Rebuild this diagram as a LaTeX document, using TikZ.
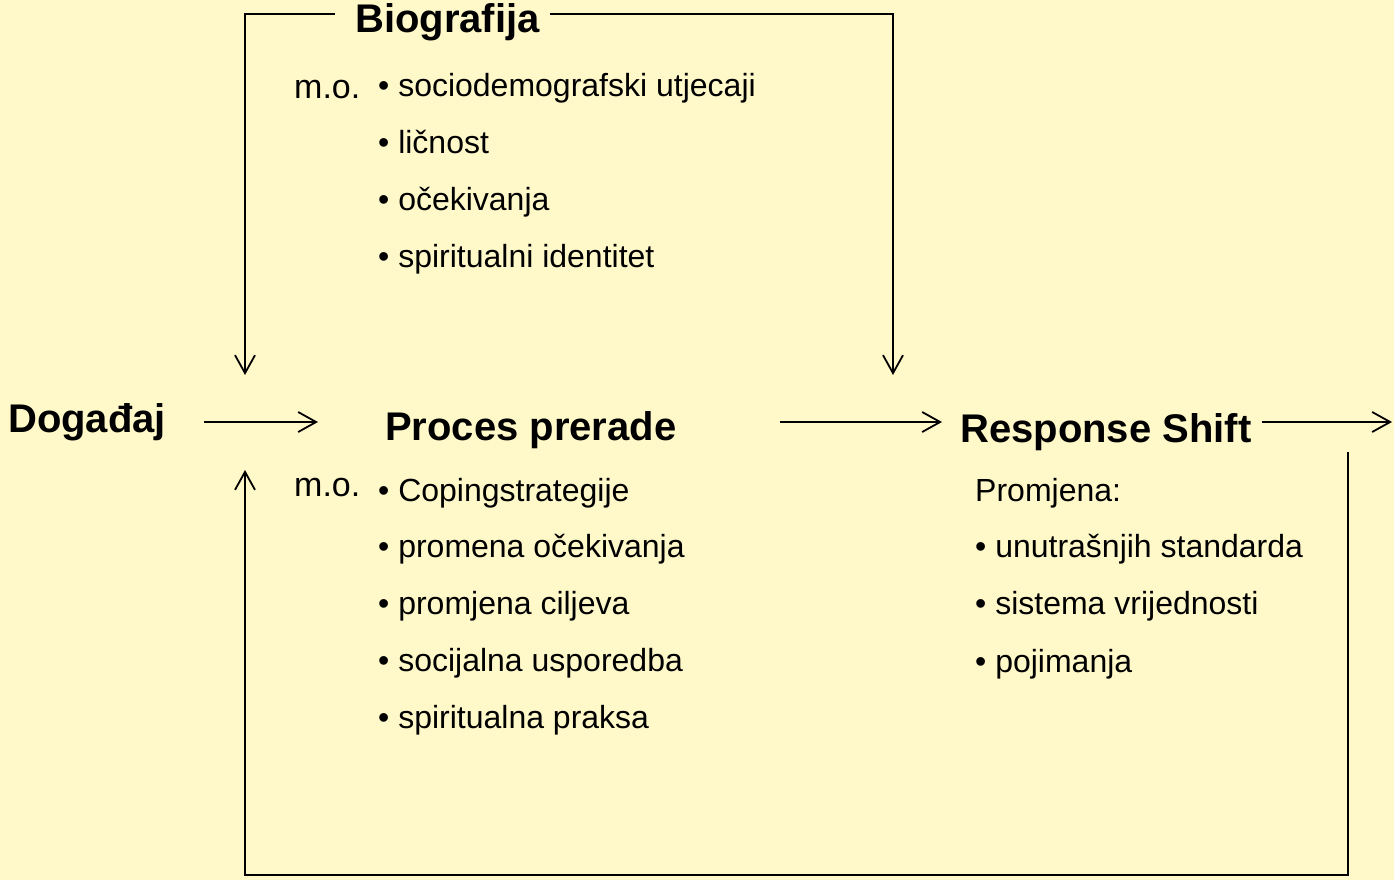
\documentclass[tikz,border=0pt]{standalone}
\usepackage{fontspec}
\setmainfont{Liberation Sans}
\usepackage{tikz}
\usetikzlibrary{positioning}
\usetikzlibrary{arrows.meta}
\definecolor{paper}{HTML}{FFF9C9}
\tikzset{
  title/.style={font=\fontsize{40}{48}\selectfont\bfseries, inner sep=0pt, text height=28pt, text depth=8pt},
  mo/.style={font=\fontsize{34}{40}\selectfont, inner sep=0pt, anchor=base west},
  item/.style={font=\fontsize{32}{38}\selectfont, inner sep=0pt, anchor=base west},
  arr/.style={line width=1.8pt, -{Straight Barb[length=18pt,width=20pt]}},
  line/.style={line width=1.8pt}
}
\begin{document}
\begin{tikzpicture}[x=1pt,y=-1pt]
\useasboundingbox[fill=paper] (0,0) rectangle (1394,880);
% titles
\node[title, anchor=base west] (dog) at (8,432) {Događaj};
\node[title, anchor=base west] (proc) at (385,440) {Proces prerade};
\node[title, anchor=base west] (resp) at (960,442) {Response Shift};
\node[title, anchor=base west] (bio) at (355,33) {Biografija};
\coordinate (tl) at (245,14);
\coordinate (tr) at (893,14);
\coordinate (lin) at (245,375);
\coordinate (rin) at (893,375);
\coordinate (out) at (1392,422);
\coordinate (rb) at (1348,452);
\coordinate (br) at (1348,875);
\coordinate (bl) at (245,875);
\coordinate (lup) at (245,470);
% main line
\draw[arr, shorten <=38pt, shorten >=67pt] (dog.east) -- (dog.east -| proc.west);
\draw[arr, shorten <=103pt, shorten >=18pt] (dog.east -| proc.east) -- (dog.east -| resp.west);
\draw[arr, shorten <=10pt] (dog.east -| resp.east) -- (out);
% Biografija frame
\draw[arr, shorten <=20pt] (bio.west |- tl) -- (tl) -- (lin);
\draw[arr, shorten <=10pt] (bio.east |- tl) -- (tr) -- (rin);
% feedback
\draw[arr] (rb) -- (br) -- (bl) -- (lup);
% lists
\node[mo] (mo1) at (294,99) {m.o.};
\foreach \t [count=\i] in {sociodemografski utjecaji, ličnost, očekivanja, spiritualni identitet}
  \node[item] (b\i) at (378,{97+56.7*(\i-1)}) {• \t};
\node[mo] (mo2) at (294,496) {m.o.};
\foreach \t [count=\i] in {Copingstrategije, promena očekivanja, promjena ciljeva, socijalna usporedba, spiritualna praksa}
  \node[item] (p\i) at (378,{501+56.75*(\i-1)}) {• \t};
\node[item] (prom) at (975,501) {Promjena:};
\foreach \t [count=\i] in {unutrašnjih standarda, sistema vrijednosti, pojimanja}
  \node[item] (r\i) at (975,{557+57.5*(\i-1)}) {• \t};
\end{tikzpicture}
\end{document}
